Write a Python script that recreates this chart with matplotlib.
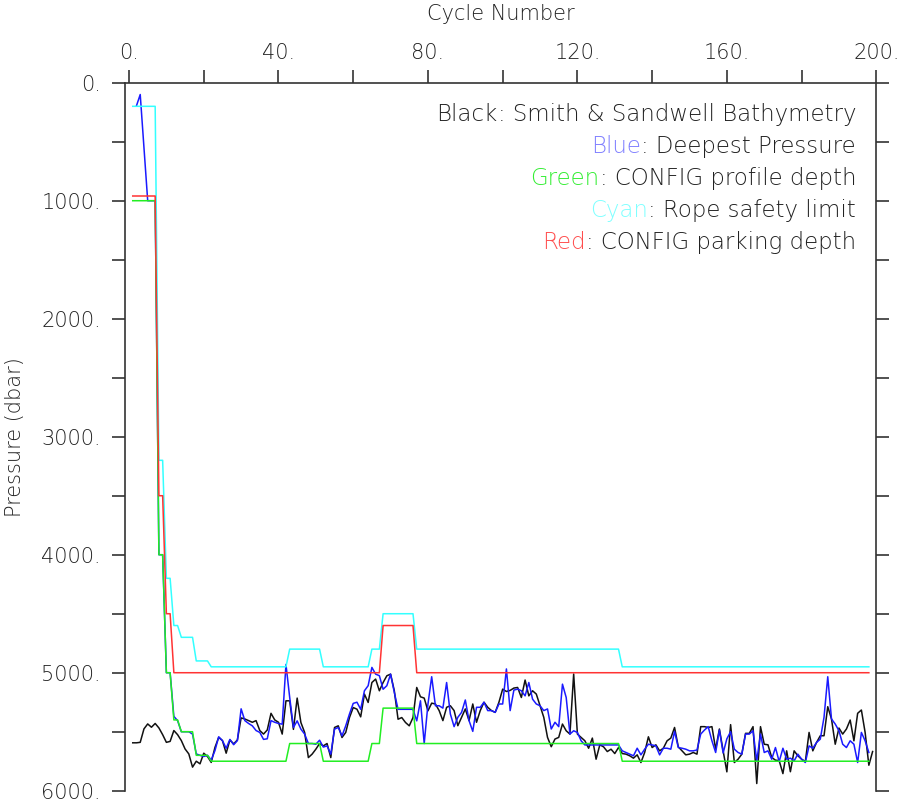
import numpy as np
import matplotlib
matplotlib.use('Agg')
import matplotlib.pyplot as plt
from matplotlib.ticker import MultipleLocator, FuncFormatter

# DATA (cycle number vs pressure in dbar)

# Smith & Sandwell bathymetry, cycles 1..199
bathy_cycles = np.arange(1, 200)
bathy = [
    5594, 5594, 5590, 5476, 5434, 5462, 5430, 5468, 5525, 5590,
    5582, 5490, 5525, 5575, 5646, 5688, 5800, 5750, 5772, 5682,
    5710, 5760, 5633, 5548, 5575, 5682, 5570, 5603, 5570, 5383,
    5392, 5406, 5420, 5406, 5490, 5520, 5485, 5344, 5400, 5420,
    5520, 5238, 5238, 5480, 5215, 5422, 5506, 5719, 5690, 5648,
    5600, 5620, 5600, 5719, 5464, 5450, 5549, 5506, 5380, 5295,
    5309, 5374, 5181, 5252, 5083, 5054, 5153, 5083, 5026, 5012,
    5153, 5394, 5380, 5422, 5450, 5380, 5125, 5204, 5215, 5323,
    5258, 5265, 5321, 5406, 5293, 5280, 5321, 5449, 5378, 5307,
    5406, 5265, 5420, 5321, 5250, 5293, 5321, 5336, 5250, 5139,
    5159, 5150, 5130, 5125, 5210, 5062, 5196, 5153, 5181, 5280,
    5378, 5548, 5627, 5562, 5548, 5435, 5492, 5520, 5011, 5520,
    5548, 5577, 5640, 5554, 5733, 5611, 5628, 5668, 5648, 5685,
    5634, 5685, 5690, 5704, 5724, 5696, 5761, 5676, 5543, 5634,
    5611, 5662, 5640, 5577, 5554, 5464, 5628, 5662, 5696, 5690,
    5676, 5690, 5457, 5457, 5464, 5457, 5648, 5477, 5662, 5840,
    5440, 5761, 5733, 5690, 5514, 5514, 5457, 5939, 5457, 5606,
    5611, 5718, 5741, 5745, 5855, 5662, 5839, 5662, 5704, 5733,
    5753, 5506, 5662, 5591, 5534, 5534, 5288, 5392, 5606, 5469,
    5520, 5477, 5401, 5577, 5344, 5316, 5506, 5784, 5668,
]

# deepest pressure, cycles 2,3 then 5..198 (no cycle 4)
deep_cycles = np.r_[2:4, 5:199]
deep = [
    195, 100,
    1000, 1000, 1000, 4000, 4000, 5000, 5000, 5370, 5406, 5500,
    5500, 5500, 5520, 5688, 5700, 5710, 5700, 5740, 5660, 5543,
    5575, 5640, 5565, 5610, 5575, 5306, 5406, 5430, 5450, 5490,
    5506, 5565, 5560, 5406, 5420, 5430, 5436, 4930, 5209, 5464,
    5408, 5478, 5520, 5600, 5600, 5606, 5572, 5630, 5620, 5690,
    5478, 5464, 5535, 5450, 5350, 5260, 5250, 5310, 5153, 5110,
    4955, 5012, 5025, 5140, 5110, 5012, 5167, 5310, 5310, 5310,
    5310, 5310, 5408, 5238, 5600, 5267, 5034, 5280, 5280, 5300,
    5083, 5350, 5457, 5378, 5336, 5231, 5406, 5497, 5293, 5293,
    5250, 5321, 5321, 5336, 5265, 5265, 4968, 5321, 5147, 5139,
    5153, 5196, 5083, 5224, 5265, 5280, 5321, 5307, 5477, 5420,
    5457, 5097, 5210, 5520, 5492, 5506, 5577, 5612, 5612, 5612,
    5612, 5612, 5612, 5612, 5612, 5612, 5612, 5662, 5676, 5690,
    5704, 5640, 5696, 5648, 5606, 5612, 5620, 5696, 5640, 5640,
    5648, 5497, 5634, 5640, 5648, 5662, 5662, 5655, 5520, 5486,
    5457, 5577, 5676, 5486, 5680, 5560, 5500, 5648, 5676, 5690,
    5520, 5520, 5492, 5747, 5520, 5676, 5662, 5733, 5634, 5753,
    5640, 5733, 5724, 5747, 5690, 5733, 5761, 5620, 5640, 5591,
    5563, 5378, 5034, 5392, 5435, 5492, 5606, 5634, 5577, 5606,
    5761, 5506, 5577, 5676,
]

# CONFIG profile depth (vertices of the stepped line)
prof_cycles = [1, 7, 8, 9, 10, 11, 12, 13, 14, 17, 18, 21, 22, 42, 43, 51, 52,
               64, 65, 67, 68, 76, 77, 131, 132, 198]
prof = [1000, 1000, 4000, 4000, 5000, 5000, 5400, 5400, 5500, 5500, 5700, 5700,
        5750, 5750, 5600, 5600, 5750, 5750, 5600, 5600, 5300, 5300, 5600, 5600,
        5750, 5750]

# rope safety limit
rope_cycles = [1, 7, 8, 9, 10, 11, 12, 13, 14, 17, 18, 21, 22, 42, 43, 51, 52,
               64, 65, 67, 68, 76, 77, 131, 132, 198]
rope = [200, 200, 3200, 3200, 4200, 4200, 4600, 4600, 4700, 4700, 4900, 4900,
        4950, 4950, 4800, 4800, 4950, 4950, 4800, 4800, 4500, 4500, 4800, 4800,
        4950, 4950]

# CONFIG parking depth
park_cycles = [1, 7, 8, 9, 10, 11, 12, 67, 68, 76, 77, 198]
park = [960, 960, 3500, 3500, 4500, 4500, 5000, 5000, 4600, 4600, 5000, 5000]

legend_rows = [
    ('Black', '#222222', ': Smith & Sandwell Bathymetry'),
    ('Blue', '#8080ff', ': Deepest Pressure'),
    ('Green', '#33ee33', ': CONFIG profile depth'),
    ('Cyan', '#80ffff', ': Rope safety limit'),
    ('Red', '#ff4d4d', ': CONFIG parking depth'),
]

TXT = '#222222'
FS = 15


def main():
    fig = plt.figure(figsize=(9, 8), dpi=100)
    ax = fig.add_axes([0.1392, 0.0116, 0.8345, 0.885])

    ax.plot(bathy_cycles, bathy, color='#111111', lw=1.1)
    ax.plot(deep_cycles, deep, color='#1a1aff', lw=1.1)
    ax.plot(prof_cycles, prof, color='#22ee22', lw=1.1)
    ax.plot(rope_cycles, rope, color='#33ffff', lw=1.1)
    ax.plot(park_cycles, park, color='#ff3333', lw=1.1)

    ax.set_xlim(-1, 200)
    ax.set_ylim(6000, 0)

    # axes: labels on top and left, plain ticks on the right, no bottom
    ax.spines['bottom'].set_visible(False)
    for s in ['top', 'left', 'right']:
        ax.spines[s].set_linewidth(1.2)
        ax.spines[s].set_color('#333333')
    ax.xaxis.set_ticks_position('top')
    ax.xaxis.set_label_position('top')
    ax.xaxis.set_major_locator(MultipleLocator(40))
    ax.xaxis.set_minor_locator(MultipleLocator(20))
    ax.yaxis.set_major_locator(MultipleLocator(1000))
    ax.yaxis.set_minor_locator(MultipleLocator(500))
    fmt = FuncFormatter(lambda v, p: '%d.' % v)
    ax.xaxis.set_major_formatter(fmt)
    ax.yaxis.set_major_formatter(fmt)
    ax.tick_params(axis='x', which='both', direction='out', length=9.5,
                   width=1.2, color='#333333', top=True, bottom=False,
                   labeltop=True, labelbottom=False, labelsize=FS,
                   labelcolor=TXT, pad=5)
    ax.tick_params(axis='y', which='both', direction='out', length=9.5,
                   width=1.2, color='#333333', left=True, right=True,
                   labelleft=True, labelright=False, labelsize=FS,
                   labelcolor=TXT, pad=8)
    for lab in ax.get_xticklabels() + ax.get_yticklabels():
        lab.set_fontweight('light')

    ax.set_xlabel('Cycle Number', fontsize=FS, color=TXT, labelpad=16,
                  fontweight='light')
    ax.set_ylabel('Pressure (dbar)', fontsize=FS, color=TXT, labelpad=12,
                  fontweight='light')

    # colour key, right aligned, first word in its line colour
    y0 = 0.955
    for i, (word, col, rest) in enumerate(legend_rows):
        t = ax.text(0.973, y0 - i * 0.0452, rest, transform=ax.transAxes,
                    ha='right', va='center', fontsize=16.5, color=TXT,
                    fontweight='light')
        ax.annotate(word, xy=(0, 0), xycoords=t, ha='right', va='bottom',
                    fontsize=16.5, color=col, fontweight='light')

    fig.savefig('out.png', dpi=100)


if __name__ == "__main__":
    main()
